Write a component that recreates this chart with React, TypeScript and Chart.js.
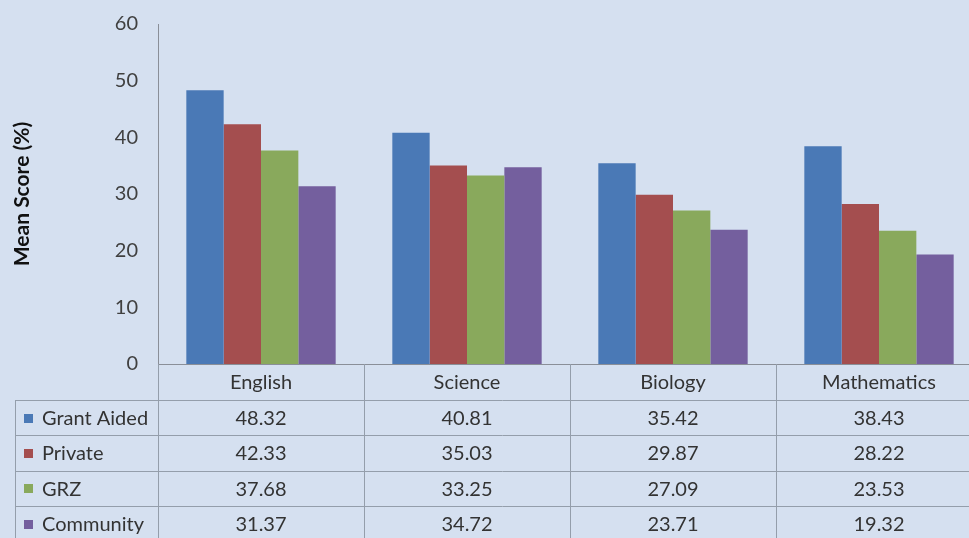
import React, { useEffect, useRef } from "react";
import { Chart, registerables } from "chart.js";

Chart.register(...registerables);

const categories = ["English", "Science", "Biology", "Mathematics"];
const seriesNames = ["Grant Aided", "Private", "GRZ", "Community"];
const grantAided = [48.32, 40.81, 35.42, 38.43];
const privateSchools = [42.33, 35.03, 29.87, 28.22];
const grz = [37.68, 33.25, 27.09, 23.53];
const community = [31.37, 34.72, 23.71, 19.32];
const yTickValues = [0, 10, 20, 30, 40, 50, 60];
const yTitle = "Mean Score (%)";

const seriesValues = [grantAided, privateSchools, grz, community];
const colors = ["#4a79b6", "#a44e4f", "#89a95c", "#745f9e"];

const FONT = "Lato, 'Open Sans', sans-serif";

const dataTablePlugin = {
  id: "dataTable",
  afterDraw(chart: any) {
    const { ctx, chartArea, scales } = chart;
    const xs = scales.x;
    const W = chart.width;
    const H = chart.height;
    const top = Math.round(chartArea.bottom);
    const headerH = 36;
    const rowH = 35.3;
    const legendLeft = 15;
    const catW = (xs.right - xs.left) / categories.length;
    ctx.save();
    ctx.strokeStyle = "#949eab";
    ctx.lineWidth = 1;
    for (let i = 0; i <= categories.length; i++) {
      const bx = Math.round(xs.left + i * catW) + 0.5;
      ctx.beginPath();
      ctx.moveTo(bx, top);
      ctx.lineTo(bx, H);
      ctx.stroke();
    }
    ctx.beginPath();
    ctx.moveTo(legendLeft + 0.5, top + headerH);
    ctx.lineTo(legendLeft + 0.5, H);
    ctx.stroke();
    for (let r = 0; r < seriesNames.length; r++) {
      const y = Math.round(top + headerH + r * rowH) + 0.5;
      ctx.beginPath();
      ctx.moveTo(legendLeft, y);
      ctx.lineTo(W, y);
      ctx.stroke();
    }
    ctx.font = "20px " + FONT;
    ctx.fillStyle = "#333333";
    ctx.textBaseline = "middle";
    ctx.textAlign = "center";
    categories.forEach((c, i) => {
      const cx = xs.getPixelForValue(i);
      ctx.fillText(c, cx, top + headerH / 2 + 1);
    });
    seriesNames.forEach((name, r) => {
      const cy = top + headerH + r * rowH + rowH / 2 + 1;
      ctx.textAlign = "center";
      ctx.fillStyle = "#333333";
      seriesValues[r].forEach((v, i) => {
        ctx.fillText(v.toFixed(2), xs.getPixelForValue(i), cy);
      });
      ctx.fillStyle = colors[r];
      ctx.fillRect(24, Math.round(cy - 5), 9, 9);
      ctx.fillStyle = "#333333";
      ctx.textAlign = "left";
      ctx.fillText(name, 42, cy);
    });
    ctx.restore();
  },
};

export default function App() {
  const canvasRef = useRef<HTMLCanvasElement | null>(null);

  useEffect(() => {
    if (!canvasRef.current) return;
    const chart = new Chart(canvasRef.current, {
      type: "bar",
      data: {
        labels: categories,
        datasets: seriesNames.map((name, i) => ({
          label: name,
          data: seriesValues[i],
          backgroundColor: colors[i],
          borderWidth: 0,
          barPercentage: 1,
          categoryPercentage: 0.725,
        })),
      },
      options: {
        animation: false,
        responsive: false,
        devicePixelRatio: 1,
        layout: { padding: { top: 24, right: 8, bottom: 174, left: 0 } },
        plugins: {
          legend: { display: false },
          tooltip: { enabled: false },
        },
        scales: {
          x: {
            type: "category",
            grid: { display: false, drawTicks: false },
            ticks: { display: false },
            border: { display: true, color: "#8a8f98", width: 1 },
            afterFit: (s: any) => {
              s.height = 0;
              s.paddingLeft = 0;
              s.paddingRight = 0;
            },
          },
          y: {
            min: 0,
            max: 60,
            afterBuildTicks: (s: any) => {
              s.ticks = yTickValues.map((v) => ({ value: v }));
            },
            grid: { display: false, drawTicks: false },
            border: { display: true, color: "#8a8f98", width: 1 },
            ticks: {
              padding: 20,
              color: "#404040",
              font: { family: FONT, size: 20 },
            },
            title: {
              display: true,
              text: yTitle,
              color: "#111111",
              font: { family: FONT, size: 21, weight: "bold" },
              padding: { top: 10, bottom: 0 },
            },
            afterFit: (s: any) => {
              s.width = 158;
              s.paddingTop = 0;
              s.paddingBottom = 0;
            },
          },
        },
      },
      plugins: [dataTablePlugin],
    });
    return () => chart.destroy();
  }, []);

  return (
    <div
      style={{
        position: "fixed",
        left: 0,
        top: 0,
        width: 969,
        height: 538,
        overflow: "hidden",
        background: "#d5e0f0",
      }}
    >
      <canvas ref={canvasRef} width={990} height={538} style={{ display: "block" }} />
    </div>
  );
}
